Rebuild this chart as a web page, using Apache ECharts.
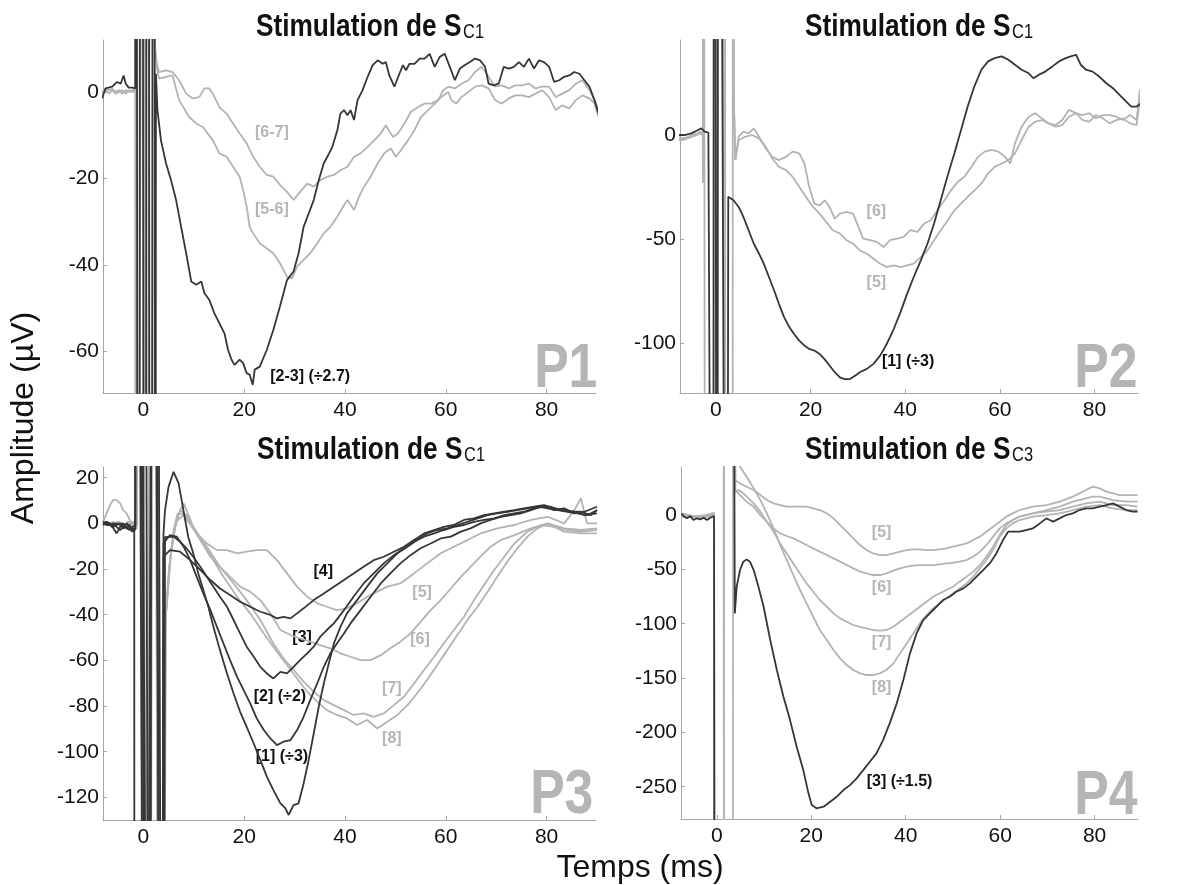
<!DOCTYPE html>
<html><head><meta charset="utf-8">
<script src="https://cdn.jsdelivr.net/npm/echarts@6/dist/echarts.min.js"></script>
<style>html,body{margin:0;padding:0;background:#fff}#c{width:1201px;height:885px}</style>
</head><body><div id="c"></div>
<script>
// ---------- tick values ----------
const xTicks = [0, 20, 40, 60, 80];
const yTicksP1 = [0, -20, -40, -60];
const yTicksP2 = [0, -50, -100];
const yTicksP3 = [20, 0, -20, -40, -60, -80, -100, -120];
const yTicksP4 = [0, -50, -100, -150, -200, -250];

// ---------- P1 : Stimulation de SC1 ----------
const p1_23 = [[-8.2,-1.5],[-7.5,0.8],[-6.2,1.2],[-5.2,2.3],[-4.5,1.9],[-3.9,3.8],[-3.5,1.9],[-2.9,1.0],[-2.2,1.0],[-1.6,0.8],[-1.5,500],[-1.0,-500],[-0.4,500],[0.3,-500],[0.9,500],[1.4,-500],[2.2,500],[2.3,-500],[2.5,4.2],[2.8,-4.2],[3.5,-11.2],[4.5,-16.5],[5.5,-20.4],[6.5,-25],[7.5,-31.2],[8.5,-37.3],[9.5,-43.8],[10.5,-44.6],[11.5,-43.8],[12.1,-46.5],[13.1,-48.1],[14.1,-51.2],[15.1,-53.5],[16.1,-55.8],[16.8,-59.6],[17.5,-61.9],[18.1,-63.1],[19.1,-61.9],[19.8,-62.7],[20.5,-65],[21.1,-65.4],[21.7,-67.7],[22.1,-64.2],[23.1,-63.5],[24.5,-59.6],[25.8,-55],[27.1,-49.6],[28.5,-43.5],[29.8,-41.5],[30.8,-37.3],[31.8,-31.2],[32.8,-28.1],[33.8,-25],[34.8,-20.4],[35.8,-16.5],[36.5,-15],[37.5,-12.7],[38.5,-8.8],[39.1,-5],[39.8,-4.2],[40.5,-5.4],[41.1,-4.2],[41.8,-6.5],[42.5,-1.9],[43.5,0.4],[44.5,3.5],[45.5,6.2],[46.5,7.3],[47.5,6.5],[48.1,6.9],[48.8,3.8],[49.8,1.2],[50.8,4.2],[51.5,6.2],[52.1,5],[52.8,6.5],[53.8,6.5],[54.8,7.7],[55.8,7.7],[56.8,8.8],[57.8,5.8],[58.8,8.1],[59.8,8.8],[60.8,5.8],[61.8,2.7],[62.8,5.4],[63.8,6.2],[64.8,6.9],[65.8,7.7],[66.8,7.3],[67.8,5.8],[68.5,1.9],[69.5,1.5],[70.5,1.9],[71.5,5.8],[72.5,5.4],[73.5,5.8],[74.5,6.9],[75.5,5.8],[76.5,7.7],[77.5,5.4],[78.5,7.3],[79.5,6.9],[80.5,5.8],[81.5,2.3],[82.5,2.7],[83.5,3.5],[84.5,3.8],[85.5,4.6],[86.5,4.2],[87.5,2.7],[88.5,1.2],[89.5,-1.9],[90.3,-5]];
const p1_67 = [[-8.2,0],[-7.5,0.8],[-6.8,0.4],[-6.2,0.8],[-5.5,0],[-4.8,0.4],[-4.2,-0.4],[-3.5,0.4],[-2.8,0],[-2.2,0.4],[-1.6,0.4],[-1.55,500],[-1.45,-500],[0.3,500],[0.4,-500],[1.8,500],[2.2,12],[2.6,7],[3.1,4.6],[4.5,5.0],[5.8,4.6],[7.1,2.7],[8.5,-0.4],[9.8,-1.5],[11.1,-1.2],[12.1,0.8],[13.1,0.8],[13.8,-0.4],[15.1,-3.5],[16.5,-5],[17.8,-7.3],[19.1,-9.6],[20.5,-11.9],[21.8,-15],[23.1,-17.3],[24.5,-19.2],[25.8,-19.6],[27.1,-21.5],[28.5,-23.1],[29.8,-25],[31.1,-23.1],[32.5,-21.2],[33.8,-21.9],[35.1,-20.4],[36.5,-19.6],[37.8,-19.2],[39.1,-18.1],[40.5,-17.3],[41.8,-15],[43.1,-14.2],[44.5,-12.7],[45.8,-11.2],[47.1,-9.6],[48.1,-7.7],[49.5,-10.4],[50.5,-9.6],[51.8,-7.3],[53.1,-4.6],[54.5,-3.5],[55.8,-2.7],[57.1,-2.7],[58.5,-1.9],[59.5,0.4],[60.5,1.2],[61.8,0.8],[63.1,1.9],[64.5,2.7],[65.8,4.6],[67.1,5.8],[68.1,4.2],[69.8,1.2],[71.1,1.5],[72.5,0.8],[73.8,1.5],[75.1,1.5],[76.5,1.9],[77.8,0.8],[79.1,1.2],[80.5,1.2],[81.8,-1.2],[83.1,-0.4],[84.5,0.4],[85.8,1.9],[87.1,2.7],[88.5,0.4],[89.5,-1.9],[90.3,-4.2]];
const p1_56 = [[-8.2,-0.4],[-7.5,0.4],[-6.8,-0.4],[-6.2,0.4],[-5.5,-0.4],[-4.8,0],[-4.2,0.4],[-3.5,-0.4],[-2.8,0.4],[-2.2,0],[-1.6,0],[-1.5,-500],[0.35,500],[0.45,-500],[1.9,500],[2.3,10],[2.7,5.5],[3.1,3.1],[4.5,3.5],[5.8,3.8],[7.1,-1.9],[9.1,-5.8],[10.5,-7.3],[11.8,-8.1],[13.8,-11.2],[15.1,-14.2],[16.5,-15],[17.8,-17.3],[19.1,-19.6],[19.8,-22.7],[20.5,-26.5],[21.1,-31.2],[21.8,-32.7],[23.1,-35],[24.5,-36.2],[25.8,-37.3],[27.1,-39.6],[28.5,-42.7],[29.5,-43.1],[30.5,-40.4],[31.8,-38.8],[33.1,-37.3],[34.5,-35],[35.8,-32.7],[37.1,-31.2],[38.5,-28.8],[39.8,-26.2],[40.5,-25],[41.8,-27.3],[42.8,-24.2],[43.8,-21.9],[45.1,-19.6],[46.5,-16.5],[47.8,-14.2],[49.1,-13.1],[50.1,-15],[51.1,-13.5],[52.5,-11.2],[53.8,-8.8],[55.1,-5.8],[56.5,-4.2],[57.8,-2.7],[59.1,-1.2],[60.5,0],[61.1,-1.9],[62.1,-2.7],[63.1,-1.2],[64.5,0],[65.8,1.2],[67.1,1.5],[68.5,0.8],[69.8,-1.9],[71.1,-2.7],[72.5,-1.5],[73.8,-0.8],[75.1,-0.8],[76.5,-1.2],[77.8,-0.4],[79.1,0.4],[80.5,-1.2],[81.8,-4.2],[83.1,-3.1],[84.5,-3.8],[85.8,-1.9],[87.1,-0.8],[88.5,-1.5],[89.5,-2.7],[90.3,-5.8]];

// ---------- P2 : Stimulation de SC1 ----------
const p2_1 = [[-8,0],[-6.6,0],[-5.2,0.8],[-3.8,2.4],[-3.1,3.2],[-2.4,1.6],[-1.6,1.1],[-0.6,-500],[-0.4,500],[0.3,-500],[0.5,500],[2.3,-500],[2.6,-29.7],[3.7,-31.4],[4.8,-34.6],[5.8,-39.4],[6.9,-45.8],[8.0,-52.3],[9.1,-57.1],[10.1,-61.9],[11.2,-68.3],[12.3,-74.8],[13.3,-81.2],[14.4,-87.6],[15.5,-92.4],[16.5,-95.7],[17.6,-98.9],[18.7,-101.3],[19.7,-102.9],[20.8,-103.7],[21.9,-105.3],[22.9,-107.7],[24.0,-110.9],[25.1,-114.1],[26.2,-116.6],[27.2,-117.4],[28.3,-117.4],[29.4,-115.8],[30.4,-114.1],[31.9,-112.5],[33.3,-110.1],[34.7,-106.1],[36.1,-100.5],[37.6,-93.2],[39.0,-85.2],[40.4,-76.4],[41.8,-68.3],[43.3,-60.3],[44.7,-52.3],[46.1,-42.6],[47.5,-31.4],[48.9,-20.1],[50.4,-8.8],[51.8,2.4],[53.2,13.7],[54.6,23.3],[56.1,31.4],[57.5,35.4],[58.9,37.0],[60.4,37.8],[61.8,36.2],[63.2,33.8],[64.6,31.4],[66.1,29.7],[67.1,27.3],[68.2,28.9],[69.6,30.5],[71.1,33.0],[72.5,35.4],[73.9,37.0],[75.0,37.8],[76.1,38.6],[77.1,33.8],[78.2,31.4],[79.6,30.5],[81.0,28.1],[82.5,24.9],[83.9,22.5],[85.3,19.3],[86.7,16.1],[87.8,13.7],[88.9,13.7],[89.9,15.3]];
const p2_6 = [[-8,-1],[-7,-1.6],[-6,-1],[-5,0],[-4,0.8],[-3.2,1.6],[-2.8,0],[-2.75,-23],[-2.7,500],[-2.3,500],[-2.2,-500],[0.2,-500],[0.3,500],[1.9,500],[2.0,-500],[3.5,-500],[3.6,500],[3.75,20],[4.1,-12],[4.8,-0.8],[5.8,1.6],[6.9,0.8],[8.0,3.2],[9.1,-0.8],[10.5,-6.4],[11.9,-10.5],[13.3,-12.1],[14.8,-10.5],[16.2,-8.0],[17.6,-8.8],[18.7,-13.7],[19.7,-24.9],[20.8,-33.0],[21.9,-33.8],[23.0,-31.4],[24.0,-34.6],[25.1,-40.2],[26.2,-37.8],[27.6,-37.0],[29.0,-37.8],[30.1,-44.2],[31.1,-49.8],[32.6,-50.6],[34.0,-51.4],[35.4,-53.9],[36.8,-50.6],[38.3,-49.8],[39.7,-49.0],[41.1,-45.8],[42.6,-46.6],[44.0,-42.6],[45.4,-41.0],[46.8,-36.2],[48.3,-31.4],[49.7,-26.5],[51.1,-22.5],[52.5,-20.1],[54.0,-15.3],[55.4,-10.5],[56.8,-8.0],[58.2,-7.2],[59.7,-8.0],[61.1,-10.5],[62.2,-13.7],[63.2,-4.0],[64.6,4.0],[66.1,8.8],[67.5,10.5],[68.9,8.0],[70.3,5.6],[71.8,4.8],[73.2,7.2],[74.6,12.1],[76.1,10.5],[77.5,9.6],[78.9,10.5],[80.3,8.0],[81.8,9.6],[83.2,9.6],[84.6,8.8],[86.0,7.2],[87.5,9.6],[88.9,7.2],[89.6,21.7]];
const p2_5 = [[-8,-2.4],[-7,-2.4],[-6,-1.6],[-5,-0.8],[-4,0],[-3.2,0.8],[-2.7,-0.8],[-2.6,500],[-0.2,500],[-0.1,-500],[1.6,-500],[1.7,500],[3.6,500],[3.8,15],[4.1,-12],[4.8,-2.4],[6.2,-0.8],[7.6,0],[9.1,-1.6],[10.5,-5.6],[11.9,-11.3],[13.3,-15.3],[14.8,-16.9],[16.2,-20.1],[17.6,-24.9],[19.0,-29.7],[20.5,-34.6],[21.9,-37.8],[23.3,-41.8],[24.7,-45.8],[26.2,-47.4],[27.6,-50.6],[29.0,-52.3],[30.4,-55.5],[31.9,-57.1],[33.3,-59.5],[34.7,-61.9],[36.1,-63.5],[37.6,-62.7],[39.0,-63.5],[40.4,-62.7],[41.8,-61.9],[43.3,-58.7],[44.7,-55.5],[46.1,-50.6],[47.5,-45.8],[49.0,-41.0],[50.4,-36.2],[51.8,-33.0],[53.2,-29.7],[54.7,-26.5],[56.1,-23.3],[57.5,-18.5],[58.9,-15.3],[60.4,-13.7],[61.8,-12.1],[63.2,-8.8],[64.6,-2.4],[66.1,4.0],[67.5,6.4],[68.9,7.2],[70.3,5.6],[71.8,4.0],[73.2,4.8],[74.6,8.8],[76.1,10.5],[77.5,7.2],[78.9,6.4],[80.3,9.6],[81.8,8.0],[83.2,5.6],[84.6,7.2],[86.0,8.0],[87.5,5.6],[88.9,4.8],[89.6,16.9]];

// ---------- P3 : Stimulation de SC1 ----------
const p3_1 = [[-8,0],[-7.3,-0.7],[-6.6,-0.7],[-5.9,-2.2],[-5.3,-4.4],[-4.6,-1.5],[-4,-0.7],[-3.3,-1.5],[-2.7,-2.2],[-2.2,-3.6],[-1.8,-2.9],[-1.75,-500],[-0.05,-500],[0.05,500],[1.25,-500],[3.7,-500],[4.0,-4.4],[4.3,5.8],[5.0,16],[6.0,22.6],[7.0,17.5],[7.6,10.2],[8.3,1.5],[8.9,-5.8],[9.9,-13.1],[10.9,-21.9],[11.9,-29.2],[12.9,-36.5],[13.9,-45.3],[15.2,-55.5],[16.6,-65.7],[17.9,-74.5],[19.2,-82.5],[20.5,-89.1],[21.9,-96.4],[23.2,-103.6],[24.5,-110.9],[25.8,-116.8],[27.2,-122.6],[28.2,-124.8],[28.8,-127.7],[29.8,-123.4],[30.8,-122.6],[31.8,-113.9],[32.8,-103.6],[33.8,-92],[34.8,-80.3],[35.8,-70.1],[36.8,-61.3],[37.8,-52.6],[39.1,-45.3],[40.4,-39.4],[42.4,-33.6],[44.4,-27.7],[46.4,-21.9],[48.4,-17.5],[50.4,-13.1],[52.4,-10.2],[54.3,-7.3],[56.3,-4.4],[58.3,-2.9],[60.3,-2.2],[62.3,-0.7],[64.3,0.7],[66.3,2.2],[68.3,3.6],[70.2,4.4],[72.2,5.1],[74.2,5.8],[76.2,6.6],[78.2,7.3],[80.2,6.6],[82.2,5.8],[84.2,5.1],[86.1,4.4],[88.1,3.6],[90,5.8]];
const p3_2 = [[-8,0.7],[-7.3,0],[-6.6,-0.7],[-5.9,0],[-5.3,-1.5],[-4.6,-2.9],[-4,-1.5],[-3.3,0],[-2.7,-1.5],[-2.2,-2.2],[-1.6,-2.9],[-1.5,500],[1.4,-500],[1.6,500],[3.8,-500],[4.0,-8.8],[5.3,-5.1],[6.6,-5.8],[8.0,-10.2],[9.3,-16.1],[10.6,-23.4],[11.9,-30.7],[13.3,-38],[14.6,-45.3],[15.9,-52.6],[17.2,-59.9],[18.6,-67.2],[19.9,-73],[21.2,-78.8],[22.5,-85.4],[23.9,-90.5],[25.2,-94.2],[26.5,-97.1],[27.8,-95.6],[29.2,-94.9],[30.5,-90.5],[31.8,-84.7],[33.1,-77.4],[34.5,-70.1],[35.8,-62.8],[37.1,-56.9],[38.4,-52.6],[39.8,-48.2],[41.1,-43.8],[43.1,-38],[45.1,-32.1],[47.1,-26.3],[49.0,-21.9],[51.0,-17.5],[53.0,-13.9],[55.0,-10.9],[57.0,-8.8],[59.0,-6.6],[61.0,-5.8],[63.0,-3.6],[64.9,-2.2],[66.9,0],[68.9,1.5],[70.9,2.9],[72.9,3.6],[74.9,4.4],[76.9,5.8],[78.9,7.3],[80.8,7.3],[82.8,5.8],[84.8,5.1],[86.8,5.1],[88.8,3.6],[90,5.8]];
const p3_3 = [[-8,-0.7],[-7.3,0.7],[-6.6,0],[-5.9,-1.5],[-5.3,-0.7],[-4.6,0],[-4,-2.2],[-3.3,-1.5],[-2.7,-0.7],[-2.2,-2.9],[-1.6,-1.5],[-1.5,500],[0.4,-500],[2.4,500],[3.9,-500],[4.3,-6],[4.6,-5.8],[6.0,-5.8],[7.3,-8],[8.6,-11],[9.9,-14.6],[11.3,-19],[12.6,-23.4],[13.9,-27.7],[15.2,-32.1],[16.6,-36.5],[17.9,-42.3],[19.2,-48.2],[20.5,-54],[21.9,-58.4],[23.2,-62.8],[24.5,-65.7],[25.8,-67.9],[27.2,-65],[28.5,-65.7],[29.8,-62.8],[31.1,-59.9],[32.5,-56.9],[33.8,-54],[35.1,-49.6],[36.4,-46.7],[37.8,-43.8],[39.8,-38],[41.7,-32.1],[43.7,-26.3],[45.7,-21.9],[47.7,-17.5],[49.7,-13.9],[51.7,-10.9],[53.7,-8],[55.7,-5.8],[57.7,-4.4],[59.6,-2.9],[61.6,-1.5],[63.6,-0.7],[65.6,0.7],[67.6,1.5],[69.6,2.2],[71.6,3.6],[73.6,4.4],[75.5,5.1],[77.5,6.6],[79.5,7.3],[81.5,5.8],[83.5,6.6],[85.5,4.4],[87.5,5.1],[90,7.3]];
const p3_4 = [[-8,0],[-7.3,0.7],[-6.6,-0.7],[-5.9,-0.7],[-5.3,0],[-4.6,-0.7],[-4,0],[-3.3,-2.2],[-2.7,-2.9],[-2.2,-1.5],[-1.6,-1],[-1.5,500],[1.0,-500],[2.0,500],[3.6,-500],[4.0,-14.6],[5.3,-11.7],[7.3,-12.4],[9.3,-16.1],[11.3,-20.4],[13.3,-24.8],[15.2,-28.5],[17.2,-31.4],[19.2,-34.3],[21.2,-36.5],[23.2,-38.7],[25.2,-40.1],[26.5,-41.6],[27.8,-40.9],[29.2,-41.6],[30.5,-39.4],[31.8,-37.2],[33.8,-33.6],[35.8,-30.7],[37.8,-27.7],[39.8,-24.8],[41.7,-21.9],[43.7,-19],[45.7,-16.1],[47.7,-14.6],[49.7,-12.4],[51.7,-10.2],[53.7,-7.3],[55.7,-4.4],[57.7,-2.9],[59.6,-1.5],[61.6,-0.7],[63.6,1.5],[65.6,2.2],[67.6,3.6],[69.6,4.4],[71.6,5.1],[73.6,5.8],[75.5,6.6],[77.5,7.3],[79.5,8],[81.5,6.6],[83.5,5.8],[85.5,5.1],[87.5,3.6],[90,4.4]];
const p3_5 = [[-8,0.7],[-7.3,4.4],[-6.6,8],[-6,10.2],[-5.3,10.2],[-4.6,8.8],[-4,5.8],[-3.3,4.4],[-2.7,1.5],[-1.8,-1.5],[-1.3,-2.2],[-1.2,500],[0.3,-500],[1.8,500],[3.3,-500],[4.2,-50],[5.0,-22],[6.0,-3],[6.8,4.4],[8.6,3.6],[10.6,-4.4],[12.6,-8.8],[14.6,-11.7],[16.6,-11.7],[18.6,-13.1],[20.5,-12.4],[22.5,-11.7],[24.5,-11.7],[26.5,-16.1],[28.5,-21.9],[30.5,-27.7],[32.5,-32.1],[34.5,-35],[36.4,-36.5],[38.4,-38],[40.4,-37.2],[42.4,-35],[44.4,-32.1],[46.4,-29.9],[48.4,-27.7],[51,-26.3],[53.7,-21.9],[56.3,-17.5],[59,-13.1],[61.6,-10.2],[64.3,-7.3],[66.9,-4.4],[70.2,-2.2],[73.6,-0.7],[76.9,1.5],[80.2,2.9],[83.5,0],[85.5,5.8],[86.8,11],[88,0],[90,0]];
const p3_6 = [[-8,-0.7],[-7,0],[-6,-1.5],[-5,0],[-4,-0.7],[-3,0.7],[-2,-0.7],[-1.3,-0.7],[-1.0,500],[0.8,-500],[2.0,500],[3.3,-500],[4.3,-45],[5.3,-16],[6.3,-2],[7.3,5.8],[8.3,4],[9.3,0],[11.3,-7.3],[13.3,-14.6],[15.2,-19],[17.2,-23.4],[19.2,-27.7],[21.2,-29.9],[23.2,-33.6],[25.2,-39.4],[27.2,-46.7],[29.2,-48.9],[31.1,-50.4],[33.1,-51.8],[35.1,-53.3],[37.1,-54.7],[39.1,-56.9],[41.1,-58.4],[43.1,-59.9],[45.1,-59.9],[47.1,-57.7],[49,-54.7],[51,-51.8],[53,-48.2],[55,-43.1],[57,-38],[59,-33.6],[61,-28.5],[63,-23.4],[64.9,-19],[66.9,-14.6],[68.9,-10.2],[70.9,-7.3],[73.6,-5.1],[76.9,-2.2],[80.2,0],[83.5,-2.2],[86.8,-2.9],[90,-2.2]];
const p3_7 = [[-8,0],[-7,-0.7],[-6,0.7],[-5,0],[-4,-1.5],[-3,0],[-2,0.7],[-1.3,0],[-1.1,500],[0.6,-500],[2.6,500],[3.4,-500],[4.4,-42],[5.4,-14],[6.4,0],[7.3,5.8],[8.0,8.8],[9.9,-1.5],[12.6,-10.2],[15.2,-19],[17.9,-26.3],[20.5,-33.6],[23.2,-42.3],[25.8,-52.6],[27.8,-59.1],[29.8,-64.2],[31.8,-69.3],[33.8,-73.7],[35.8,-77.4],[37.8,-79.6],[39.8,-81.8],[41.7,-83.9],[43.7,-83.2],[45.7,-84.7],[47.7,-83.2],[49.7,-79.6],[51.7,-75.9],[53.7,-70.1],[55.7,-64.2],[57.7,-58.4],[59.6,-52.6],[61.6,-46.7],[63.6,-40.9],[65.6,-33.6],[67.6,-27],[69.6,-20.4],[71.6,-14.6],[73.6,-8.8],[76.2,-3.6],[78.9,-0.7],[81.5,-1.5],[84.2,-2.9],[86.8,-3.6],[90,-2.9]];
const p3_8 = [[-8,0.7],[-7,0],[-6,-0.7],[-5,0.7],[-4,0],[-3,-0.7],[-2,0],[-1.3,0.7],[-0.9,500],[1.2,-500],[2.2,500],[3.5,-500],[4.5,-40],[5.5,-12],[6.5,1],[8,3.6],[10.6,-4.4],[13.3,-13.9],[15.9,-23.4],[18.6,-32.1],[21.2,-39.4],[23.9,-48.2],[26.5,-56.2],[28.5,-62],[30.5,-67.9],[32.5,-73.7],[34.5,-78.1],[36.4,-81.8],[38.4,-83.9],[40.4,-85.4],[42.4,-88.3],[44.4,-86.1],[46.4,-89.8],[48.4,-86.9],[50.4,-83.9],[52.4,-79.6],[54.3,-74.5],[56.3,-68.6],[58.3,-62],[60.3,-55.5],[62.3,-48.9],[64.3,-42.3],[66.3,-36.5],[68.3,-29.9],[70.2,-23.4],[72.2,-16.8],[74.2,-10.9],[76.2,-5.8],[78.2,-2.2],[80.2,0],[83.5,-3.6],[86.8,-4.4],[90,-4.4]];

// ---------- P4 : Stimulation de SC3 ----------
const p4_3 = [[-7.5,1.5],[-7,-1.5],[-6.3,-3],[-5.6,-1],[-5,-4.6],[-4.2,-3],[-3.5,-4],[-2.8,-2.5],[-2.1,-4.5],[-1.4,-2.5],[-0.6,-1],[-0.5,-500],[1.0,'-'],[3.35,500],[3.8,-90.5],[4.2,-66],[4.9,-50.6],[5.6,-42.9],[6.3,-40.8],[7.0,-42.9],[7.8,-50.6],[8.8,-66],[9.9,-84.4],[11.3,-115],[12.7,-142.6],[14.1,-167.2],[15.5,-188.7],[16.9,-213.2],[18.3,-234.7],[19.4,-256.1],[20.1,-266.9],[21.1,-269.9],[22.6,-268.4],[24,-263.8],[25.4,-259.2],[26.8,-253.1],[28.2,-248.5],[29.6,-242.3],[31,-234.7],[32.4,-227],[33.8,-219.3],[35.2,-207.1],[36.6,-191.7],[38.1,-173.3],[39.5,-151.8],[40.9,-127.3],[42.3,-108.9],[43.7,-96.6],[45.1,-90.5],[46.5,-84.4],[47.9,-78.2],[49.3,-75.2],[50.7,-70.6],[52.2,-67.5],[53.6,-62.9],[55,-56.7],[56.4,-50.6],[57.8,-44.5],[59.2,-35.3],[60.6,-23],[61.7,-15.3],[62.7,-15.3],[64.1,-15.3],[65.5,-13.8],[66.9,-12.3],[68.4,-7.7],[69.8,-3.1],[70.5,-4.6],[71.2,-6.1],[72.6,-3.1],[74,0],[75.4,1.5],[76.8,4.6],[78.2,6.1],[79.6,6.1],[81.1,7.7],[82.5,9.2],[83.9,10.7],[85.3,7.7],[86.7,4.6],[88.1,3.1],[89.1,3.1]];
const p4_5 = [[-7.5,1],[-6.5,0],[-5.5,-1.5],[-4.5,-2],[-3.5,-1.5],[-2.5,-1],[-1.5,0],[-0.6,1.5],[-0.5,-500],[0.5,'-'],[1.4,500],[1.5,-500],[2.5,'-'],[3.4,-500],[3.45,500],[3.9,32.2],[4.9,29.1],[6.3,26],[7.8,23],[9.2,18.4],[10.6,13.8],[12,10.7],[13.4,9.2],[14.8,7.7],[16.2,7.7],[17.6,7.7],[19,7.7],[20.4,6.1],[21.8,4.6],[23.3,1.5],[24.7,-3.1],[26.1,-9.2],[27.5,-15.3],[28.9,-21.5],[30.3,-27.6],[31.7,-32.2],[33.1,-35.3],[34.5,-36.8],[35.9,-36.8],[37.4,-35.3],[38.8,-33.7],[40.2,-32.2],[41.6,-31.6],[43,-31.6],[44.4,-32.2],[45.8,-32.2],[47.2,-31.6],[48.6,-30.7],[50,-29.1],[51.4,-27.6],[52.9,-26.1],[54.3,-23],[55.7,-19.9],[57.1,-15.3],[58.5,-10.7],[59.9,-6.1],[61.3,-1.5],[62.7,1.5],[64.1,4.6],[66.9,7.7],[69.8,9.2],[72.6,12.3],[75.4,16.9],[78.2,23],[79.6,26.1],[81.1,24.5],[82.5,21.5],[83.9,20],[85.3,18.4],[87.4,18.4],[89.1,18.4]];
const p4_6 = [[-7.5,0],[-6.5,-1],[-5.5,-2],[-4.5,-1.5],[-3.5,-2.5],[-2.5,-1.5],[-1.5,-0.5],[-0.6,0.5],[0.5,'-'],[3.45,500],[3.9,23],[4.9,18.4],[6.3,12.3],[7.8,7.7],[9.2,0],[10.6,-6.1],[12,-12.3],[13.4,-16.9],[14.8,-19.3],[16.2,-21.5],[17.6,-24.5],[19,-27.6],[20.4,-30.7],[21.8,-33.7],[23.3,-36.8],[24.7,-39.9],[26.1,-42.9],[27.5,-46],[28.9,-49.1],[30.3,-52.1],[31.7,-53.7],[33.1,-55.2],[34.5,-55.2],[35.9,-53.7],[37.4,-51.2],[38.8,-49.1],[40.2,-47.5],[41.6,-46.6],[43,-46],[44.4,-46],[45.8,-46],[47.2,-45.4],[48.6,-44.5],[50,-43.9],[51.4,-42.9],[52.9,-41.4],[54.3,-38.3],[55.7,-33.7],[57.1,-27.6],[58.5,-19.9],[59.9,-12.3],[61.3,-7.7],[62.7,-4.6],[64.1,-1.5],[66.9,1.5],[69.8,4.6],[72.6,7.7],[75.4,12.3],[78.2,15.3],[79.6,16.9],[81.1,16.9],[83.9,13.8],[86.7,12.3],[89.1,12.3]];
const p4_7 = [[-7.5,0.5],[-6.5,-0.5],[-5.5,-1],[-4.5,-2.5],[-3.5,-2],[-2.5,-2],[-1.5,-1],[-0.6,0],[0.5,'-'],[3.45,500],[3.9,21.5],[4.6,23],[5.6,20],[6.7,15.3],[7.8,10.7],[9.2,3.1],[10.6,-6.1],[12,-15.3],[13.4,-26.1],[14.8,-35.3],[16.2,-44.5],[17.6,-53.7],[19,-62.9],[20.4,-70.6],[21.8,-78.2],[23.3,-84.4],[24.7,-90.5],[26.1,-95.1],[27.5,-98.2],[28.9,-101.2],[30.3,-102.8],[31.7,-104.3],[33.1,-105.8],[34.5,-106.4],[35.9,-105.8],[37.4,-102.8],[38.8,-98.2],[40.2,-93.6],[41.6,-89],[43,-84.4],[44.4,-79.8],[45.8,-75.2],[47.2,-72.1],[48.6,-69],[50,-66],[51.4,-61.3],[52.9,-56.7],[54.3,-52.1],[55.7,-46],[57.1,-38.3],[58.5,-29.1],[59.9,-18.4],[61.3,-9.2],[62.7,-4.6],[64.1,-1.5],[66.9,1.5],[69.8,3.1],[72.6,4.6],[75.4,7.7],[78.2,10.7],[81.1,12.3],[83.9,9.2],[86.7,9.2],[89.1,7.7]];
const p4_8 = [[-7.5,1.5],[-6.5,0.5],[-5.5,-0.5],[-4.5,-1],[-3.5,-0.5],[-2.5,0],[-1.5,1],[-0.6,2],[-0.45,-500],[0.5,'-'],[1.5,500],[1.55,-500],[2.5,'-'],[4.6,500],[4.9,44.5],[6.3,35.3],[7.8,24.5],[9.2,13.8],[10.6,1.5],[12,-12.3],[13.4,-27.6],[14.8,-41.4],[16.2,-55.2],[17.6,-69],[19,-81.3],[20.4,-93.6],[21.8,-105.8],[23.3,-115],[24.7,-124.2],[26.1,-131.9],[27.5,-138],[28.9,-142.6],[30.3,-145.7],[31.7,-147.2],[33.1,-147.2],[34.5,-145.7],[35.9,-142.6],[37.4,-136.5],[38.8,-127.3],[40.2,-118.1],[41.6,-108.9],[43,-99.7],[44.4,-92],[45.8,-85.9],[47.2,-81.3],[48.6,-76.7],[50,-72.1],[51.4,-67.5],[52.9,-62.9],[54.3,-56.7],[55.7,-49.1],[57.1,-41.4],[58.5,-32.2],[59.9,-19.9],[61.3,-12.3],[62.7,-7.7],[64.1,-4.6],[66.9,-1.5],[69.8,0],[72.6,1.5],[75.4,4.6],[78.2,7.7],[81.1,9.2],[83.9,6.1],[86.7,4.6],[89.1,4.6]];

// ---------- text ----------
const titles = ['C1', 'C1', 'C1', 'C3'];
const panelTags = ['P1', 'P2', 'P3', 'P4'];
// [panel, text, x(ms), y(µV), dark?]
const curveLabels = [
  [0, '[2-3] (÷2.7)', 33.1, -65.9, true], [0, '[6-7]', 25.5, -9.5, false], [0, '[5-6]', 25.5, -27.3, false],
  [1, '[6]', 33.9, -37, false], [1, '[5]', 33.9, -71.2, false], [1, '[1] (÷3)', 40.6, -109.1, true],
  [2, '[4]', 35.7, -21.3, true], [2, '[3]', 31.5, -50.2, true], [2, '[2] (÷2)', 27.1, -76, true], [2, '[1] (÷3)', 27.5, -102.2, true],
  [2, '[5]', 55.3, -30.5, false], [2, '[6]', 54.9, -51.1, false], [2, '[7]', 49.3, -72.2, false], [2, '[8]', 49.3, -94.1, false],
  [3, '[5]', 34.9, -16.6, false], [3, '[6]', 34.9, -67.2, false], [3, '[7]', 34.9, -117.8, false], [3, '[8]', 34.9, -159.2, false], [3, '[3] (÷1.5)', 38.7, -245.7, true]
];
const tagPos = [[83.8, -64.2], [82.4, -112.7], [83, -119.4], [82.4, -259]];

// ---------- layout / style ----------
const DARK = '#363636', GRAY = '#b3b3b3', AX = '#a6a6a6';
const F = "'Liberation Sans', Arial, sans-serif";
const panels = [
  {grid: {left: 103, top: 40, width: 493, height: 353}, x: [-8, 89.8], y: [-69.6, 12.0], yt: yTicksP1},
  {grid: {left: 680, top: 40, width: 458, height: 353}, x: [-7.6, 89.2], y: [-124.1, 45.7], yt: yTicksP2},
  {grid: {left: 103, top: 467, width: 493, height: 353}, x: [-8, 89.8], y: [-129.9, 24.7], yt: yTicksP3},
  {grid: {left: 681, top: 467, width: 457, height: 352}, x: [-7.6, 89.2], y: [-279.7, 44.2], yt: yTicksP4}
];
const seriesDefs = [
  [0, p1_67, GRAY], [0, p1_56, GRAY], [0, p1_23, DARK],
  [1, p2_6, GRAY], [1, p2_5, GRAY], [1, p2_1, DARK],
  [2, p3_5, GRAY], [2, p3_6, GRAY], [2, p3_7, GRAY], [2, p3_8, GRAY],
  [2, p3_4, DARK], [2, p3_3, DARK], [2, p3_2, DARK], [2, p3_1, DARK],
  [3, p4_5, GRAY], [3, p4_6, GRAY], [3, p4_7, GRAY], [3, p4_8, GRAY], [3, p4_3, DARK]
];

const chart = echarts.init(document.getElementById('c'), null, {renderer: 'canvas'});
const axisCommon = (i, vals, isX) => ({
  type: 'value', gridIndex: i,
  axisLine: {show: true, onZero: false, lineStyle: {color: AX, width: 1}},
  axisTick: {show: true, inside: true, length: 4, customValues: vals, lineStyle: {color: AX}},
  axisLabel: {customValues: vals, color: '#111', fontSize: 21, fontFamily: F, margin: isX ? 7 : 4},
  splitLine: {show: false}
});
chart.setOption({
  animation: false,
  backgroundColor: '#fff',
  grid: panels.map(p => p.grid),
  xAxis: panels.map((p, i) => Object.assign(axisCommon(i, xTicks, true), {min: p.x[0], max: p.x[1]})),
  yAxis: panels.map((p, i) => Object.assign(axisCommon(i, p.yt, false), {min: p.y[0], max: p.y[1]})),
  series: seriesDefs.map(([i, d, c]) => ({
    type: 'line', xAxisIndex: i, yAxisIndex: i, data: d, symbol: 'none', showSymbol: false,
    clip: true, silent: true, connectNulls: false,
    lineStyle: {color: c, width: 1.8}
  }))
});

const g = [];
// panel titles
const titlePos = [[370, 43], [919, 43], [371, 466], [919, 466]];
titles.forEach((sub, i) => {
  g.push({type: 'text', x: titlePos[i][0], y: titlePos[i][1], scaleX: 0.82, silent: true,
    style: {text: '{a|Stimulation de S}{b|' + sub + '}', textAlign: 'center', textVerticalAlign: 'bottom', verticalAlign: 'bottom',
      rich: {a: {fontFamily: F, fontWeight: 'bold', fontSize: 32, fill: '#111', verticalAlign: 'bottom'},
             b: {fontFamily: F, fontSize: 20, fill: '#111', verticalAlign: 'bottom', padding: [0, 0, 1, 2]}}}});
});
// curve labels
curveLabels.forEach(([i, t, x, y, dark]) => {
  const p = chart.convertToPixel({gridIndex: i}, [x, y]);
  g.push({type: 'text', x: p[0], y: p[1], silent: true,
    style: {text: t, fontFamily: F, fontWeight: 'bold', fontSize: 16, fill: dark ? '#111' : '#b5b5b5', align: 'center', verticalAlign: 'middle'}});
});
// P tags
panelTags.forEach((t, i) => {
  const p = chart.convertToPixel({gridIndex: i}, tagPos[i]);
  g.push({type: 'text', x: p[0], y: p[1], scaleX: 0.82, silent: true,
    style: {text: t, fontFamily: F, fontWeight: 'bold', fontSize: 63, fill: '#b5b5b5', align: 'center', verticalAlign: 'middle'}});
});
// axis names
g.push({type: 'text', x: 640, y: 868, silent: true,
  style: {text: 'Temps (ms)', fontFamily: F, fontSize: 32, fill: '#111', align: 'center', verticalAlign: 'middle'}});
g.push({type: 'text', x: 24, y: 418, rotation: Math.PI / 2, silent: true,
  style: {text: 'Amplitude (µV)', fontFamily: F, fontSize: 32, fill: '#111', align: 'center', verticalAlign: 'middle'}});
chart.setOption({graphic: {elements: g}});
</script></body></html>
